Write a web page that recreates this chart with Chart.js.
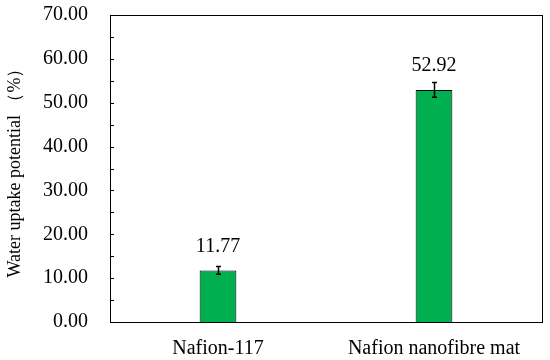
<!DOCTYPE html>
<html>
<head>
<meta charset="utf-8">
<script src="https://cdn.jsdelivr.net/npm/chart.js@4"></script>
<style>
  html, body { margin: 0; padding: 0; background: #fff; }
  #wrap { width: 550px; height: 360px; }
</style>
</head>
<body>
<div id="wrap"><canvas id="chart"></canvas></div>
<script>
// ── Data ──
const categories = ['Nafion-117', 'Nafion nanofibre mat'];
const uptake = [11.77, 52.92];
const uptakeErr = [0.9, 1.7];
const yTicks = [0, 10, 20, 30, 40, 50, 60, 70];

const serif = "'Liberation Serif', 'Times New Roman', serif";

// ── Frame, inner ticks, error bars, value labels ──
const extras = {
  id: 'extras',
  afterDatasetsDraw(chart) {
    const { ctx, chartArea: a, scales: { x, y } } = chart;
    ctx.save();
    ctx.strokeStyle = '#000';
    ctx.lineWidth = 1;
    ctx.strokeRect(Math.round(a.left) + 0.5, Math.round(a.top) + 0.5,
      Math.round(a.right - a.left), Math.round(a.bottom - a.top));

    // major + minor ticks on the inside of the y axis
    for (let v = 0; v <= 70; v += 5) {
      const py = Math.round(y.getPixelForValue(v)) + 0.5;
      ctx.beginPath();
      ctx.moveTo(a.left, py);
      ctx.lineTo(a.left + 4, py);
      ctx.stroke();
    }

    const meta = chart.getDatasetMeta(0);
    ctx.font = '20px ' + serif;
    ctx.fillStyle = '#000';
    ctx.textAlign = 'center';
    ctx.textBaseline = 'middle';
    meta.data.forEach((bar, i) => {
      const hi = y.getPixelForValue(uptake[i] + uptakeErr[i]);
      const lo = y.getPixelForValue(uptake[i] - uptakeErr[i]);
      const cx = Math.round(bar.x) + 0.5;
      ctx.lineWidth = 1.5;
      ctx.beginPath();
      ctx.moveTo(cx, hi); ctx.lineTo(cx, lo);
      ctx.moveTo(cx - 2.5, hi); ctx.lineTo(cx + 2.5, hi);
      ctx.moveTo(cx - 2.5, lo); ctx.lineTo(cx + 2.5, lo);
      ctx.stroke();
      ctx.fillText(uptake[i].toFixed(2), bar.x, bar.y - 24);
    });
    ctx.restore();
  }
};

new Chart(document.getElementById('chart'), {
  type: 'bar',
  data: {
    labels: categories,
    datasets: [{
      data: uptake,
      backgroundColor: '#00b050',
      borderColor: '#000',
      borderWidth: 1,
      categoryPercentage: 1,
      barPercentage: 0.17,
    }]
  },
  options: {
    responsive: true,
    maintainAspectRatio: false,
    animation: false,
    layout: { padding: { left: 0, top: 15, right: 8, bottom: 0 } },
    plugins: { legend: { display: false }, tooltip: { enabled: false } },
    scales: {
      x: {
        grid: { display: false },
        border: { display: false },
        ticks: { color: '#000', font: { family: serif, size: 20 }, padding: 7 },
        afterFit: (s) => { s.height = 38; s.paddingLeft = 0; s.paddingRight = 0; },
      },
      y: {
        min: 0,
        max: 70,
        afterBuildTicks: (s) => { s.ticks = yTicks.map(v => ({ value: v })); },
        grid: { display: false, drawTicks: false },
        border: { display: false },
        ticks: {
          color: '#000',
          font: { family: serif, size: 20 },
          padding: 22,
          callback: (v) => Number(v).toFixed(2),
        },
        title: {
          display: true,
          text: 'Water uptake potential （%）',
          color: '#000',
          font: { family: serif, size: 18 },
          padding: { top: 4, bottom: 0 },
        },
        afterFit: (s) => { s.width = 110; s.paddingTop = 0; s.paddingBottom = 0; },
      }
    }
  },
  plugins: [extras]
});
</script>
</body>
</html>
